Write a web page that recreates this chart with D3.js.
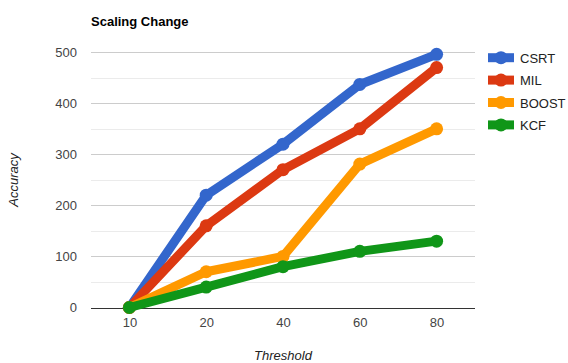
<!DOCTYPE html>
<html>
<head>
<meta charset="utf-8">
<script src="https://cdn.jsdelivr.net/npm/d3@7"></script>
<style>
  html, body { margin: 0; padding: 0; background: #fff; }
  svg { display: block; font-family: "Liberation Sans", Arial, sans-serif; }
</style>
</head>
<body>
<svg id="chart" width="568" height="363"></svg>
<script>
// Thresholds on the x axis
const thresholds = ["10", "20", "40", "60", "80"];
// Accuracy per tracker
const csrt  = [0, 220, 320, 437, 496];
const mil   = [0, 160, 270, 350, 470];
const boost = [0, 70, 100, 281, 350];
const kcf   = [0, 40, 80, 110, 130];
const seriesNames = ["CSRT", "MIL", "BOOST", "KCF"];
const seriesColors = ["#3366cc", "#dc3912", "#ff9900", "#109618"];
const yTicks = [0, 100, 200, 300, 400, 500];
const yMinorTicks = [50, 150, 250, 350, 450];

const series = [csrt, mil, boost, kcf].map((vals, i) => ({
  name: seriesNames[i], color: seriesColors[i], values: vals
}));

const svg = d3.select("#chart");
const plot = { left: 91, right: 475, top: 52.3, bottom: 307.5 };

const x = d3.scalePoint().domain(thresholds).range([plot.left, plot.right]).padding(0.5);
const y = d3.scaleLinear().domain([0, 500]).range([plot.bottom, plot.top]);

// Minor gridlines
svg.append("g").selectAll("line").data(yMinorTicks).join("line")
  .attr("x1", plot.left).attr("x2", plot.right)
  .attr("y1", d => Math.round(y(d)) + 0.5).attr("y2", d => Math.round(y(d)) + 0.5)
  .attr("stroke", "#ebebeb").attr("stroke-width", 1);

// Major gridlines and y labels
const yAxis = d3.axisLeft(y).tickValues(yTicks).tickSize(0).tickPadding(14);
const gy = svg.append("g").attr("transform", `translate(${plot.left},0)`).call(yAxis);
gy.select(".domain").remove();
gy.selectAll("text").attr("fill", "#444").attr("font-size", 13).attr("font-family", "Liberation Sans, Arial, sans-serif");
svg.append("g").selectAll("line").data(yTicks.filter(d => d > 0)).join("line")
  .attr("x1", plot.left).attr("x2", plot.right)
  .attr("y1", d => Math.round(y(d)) + 0.5).attr("y2", d => Math.round(y(d)) + 0.5)
  .attr("stroke", "#cccccc").attr("stroke-width", 1);

// Baseline
svg.append("line")
  .attr("x1", plot.left).attr("x2", plot.right)
  .attr("y1", Math.round(y(0)) + 0.5).attr("y2", Math.round(y(0)) + 0.5)
  .attr("stroke", "#333").attr("stroke-width", 1);

// X axis labels
const xAxis = d3.axisBottom(x).tickSize(0).tickPadding(10);
const gx = svg.append("g").attr("transform", `translate(0,${plot.bottom})`).call(xAxis);
gx.select(".domain").remove();
gx.selectAll("text").attr("fill", "#444").attr("font-size", 13).attr("font-family", "Liberation Sans, Arial, sans-serif");

// Lines and points
const line = d3.line().x((d, i) => x(thresholds[i])).y(d => y(d));
const gs = svg.append("g").selectAll("g").data(series).join("g");
gs.append("path")
  .attr("d", d => line(d.values))
  .attr("fill", "none").attr("stroke", d => d.color)
  .attr("stroke-width", 9).attr("stroke-linejoin", "round").attr("stroke-linecap", "round");
gs.selectAll("circle").data(d => d.values.map((v, i) => ({ v, i, color: d.color }))).join("circle")
  .attr("cx", d => x(thresholds[d.i])).attr("cy", d => y(d.v))
  .attr("r", 6.5).attr("fill", d => d.color);

// Title
svg.append("text").attr("x", plot.left).attr("y", 26)
  .attr("font-size", 13).attr("font-weight", "bold").attr("fill", "#000")
  .text("Scaling Change");

// Axis titles
svg.append("text").attr("transform", "translate(18,180) rotate(-90)")
  .attr("text-anchor", "middle").attr("font-size", 13).attr("font-style", "italic").attr("fill", "#222")
  .text("Accuracy");
svg.append("text").attr("x", 283).attr("y", 360)
  .attr("text-anchor", "middle").attr("font-size", 13).attr("font-style", "italic").attr("fill", "#222")
  .text("Threshold");

// Legend
const lg = svg.append("g").selectAll("g").data(series).join("g")
  .attr("transform", (d, i) => `translate(488,${57.7 + i * 22.4})`);
lg.append("line").attr("x1", 0).attr("x2", 26).attr("y1", 0).attr("y2", 0)
  .attr("stroke", d => d.color).attr("stroke-width", 9);
lg.append("circle").attr("cx", 13).attr("cy", 0).attr("r", 6.5).attr("fill", d => d.color);
lg.append("text").attr("x", 32).attr("y", 5).attr("font-size", 13).attr("fill", "#222")
  .text(d => d.name);
</script>
</body>
</html>
